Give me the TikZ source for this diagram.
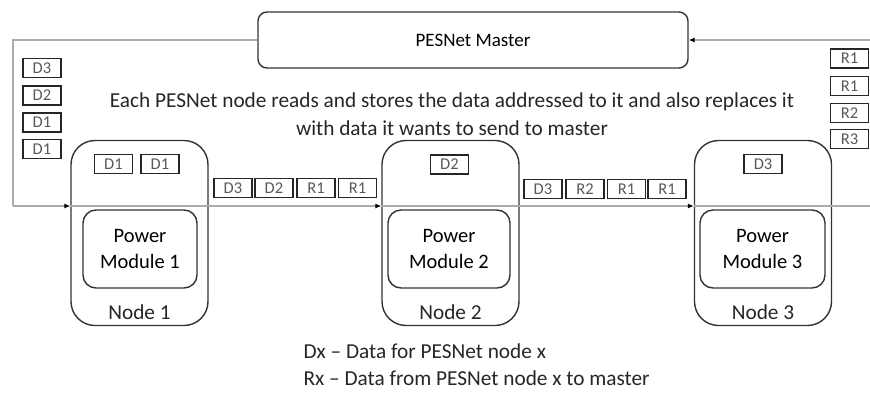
\documentclass[tikz,border=0pt]{standalone}
\usepackage{fontspec}
\setmainfont{Carlito}
\usetikzlibrary{positioning, arrows.meta, calc}
\tikzset{
  master/.style={rectangle, rounded corners=9pt, draw=black!80, line width=1.4pt, minimum width=430pt, minimum height=56pt, font=\fontsize{19}{20}\selectfont},
  pesnode/.style={rectangle, rounded corners=24pt, draw=black!80, line width=1.4pt, minimum width=137pt, minimum height=185pt},
  module/.style={rectangle, rounded corners=13pt, draw=black!80, line width=1.4pt, minimum height=78pt, align=center, font=\fontsize{20.5}{26}\selectfont},
  databox/.style={rectangle, draw=black!85, line width=1.4pt, minimum width=38pt, minimum height=19pt, inner sep=0pt, font=\fontsize{16.5}{16}\selectfont, text=black!65},
  plain/.style={font=\fontsize{21.3}{28}\selectfont, text=black!85},
  bus/.style={gray!65, line width=1.1pt},
  tip/.style={-{Latex[black,length=6pt,width=5pt]}}
}
\begin{document}
\begin{tikzpicture}[x=1pt, y=-1pt]
  \useasboundingbox (0,0) rectangle (870,394);

  % Master
  \node[master] (mst) at (473,40) {PESNet Master};
  \node[plain, align=center] (desc) at (452,114) {Each PESNet node reads and stores the data addressed to it and also replaces it\\with data it wants to send to master};

  % PESNet nodes
  \node[pesnode] (n1) at (139.5,233) {};
  \node[pesnode] (n2) at (450.5,233) {};
  \node[pesnode] (n3) at (763,233) {};
  \node[module, minimum width=114pt] (pm1) at (140,249) {Power\\Module 1};
  \node[module, minimum width=122pt] (pm2) at (449,249) {Power\\Module 2};
  \node[module, minimum width=125pt] (pm3) at (762.5,249) {Power\\Module 3};
  \node[plain] (l1) at (n1.south |- 0,312) {Node 1};
  \node[plain] (l2) at (n2.south |- 0,312) {Node 2};
  \node[plain] (l3) at (n3.south |- 0,312) {Node 3};

  % Datenpakete
  \foreach \nm/\x/\y/\txt in {
      a1/42/68/D3, a2/42/95.5/D2, a3/42/122.5/D1, a4/42/149/D1,
      b1/849.5/58.5/R1, b2/849.5/86/R1, b3/849.5/113/R2, b4/849.5/139/R3,
      c1/113.5/164/D1, c2/160/164/D1, c3/449.5/164.5/D2, c4/763/164/D3,
      d1/233/188/D3, d2/274/188/D2, d3/316/188/R1, d4/357.5/188/R1,
      e1/543/189/D3, e2/585/189/R2, e3/626.5/189/R1, e4/667/189/R1
  } {
      \node[databox] (\nm) at (\x,\y) {\txt};
  }

  % Ring
  \coordinate (tl) at (13,40);
  \coordinate (bl) at (13,206);
  \coordinate (br) at (870,206);
  \coordinate (tr) at (870,40);
  \draw[bus] (mst.west) -- (tl) -- (bl);
  \draw[bus, tip] (bl) -- (n1.west |- bl);
  \draw[bus, tip] (n1.west |- bl) -- (n2.west |- bl);
  \draw[bus, tip] (n2.west |- bl) -- (n3.west |- bl);
  \draw[bus] (n3.west |- bl) -- (br);
  \draw[bus, tip] (tr) -- (mst.east);

  % Legende
  \node[plain, anchor=west] (lgd1) at (300,351) {Dx -- Data for PESNet node x};
  \node[plain, anchor=west] (lgd2) at (300,378) {Rx -- Data from PESNet node x to master};
\end{tikzpicture}
\end{document}
